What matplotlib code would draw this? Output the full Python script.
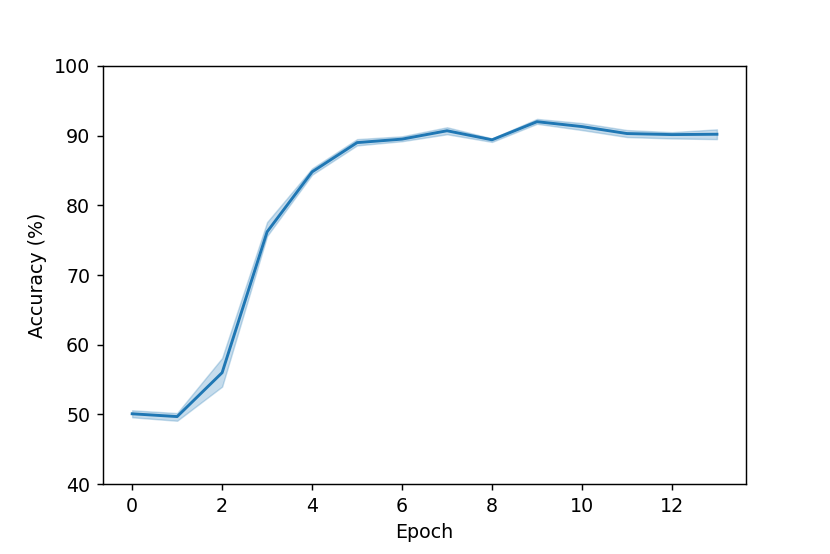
import matplotlib
matplotlib.use("Agg")
import matplotlib.pyplot as plt

# accuracy per epoch (mean) and the shaded band (lower / upper)
epochs = [0, 1, 2, 3, 4, 5, 6, 7, 8, 9, 10, 11, 12, 13]
acc_mean = [50.1, 49.7, 56.0, 76.2, 84.8, 89.0, 89.5, 90.7, 89.4, 92.0, 91.3, 90.3, 90.15, 90.2]
acc_low = [49.6, 49.1, 54.0, 75.6, 84.4, 88.6, 89.2, 90.2, 89.1, 91.7, 90.8, 89.8, 89.6, 89.5]
acc_high = [50.6, 50.2, 58.1, 77.6, 85.3, 89.5, 89.9, 91.2, 89.6, 92.4, 91.8, 90.8, 90.5, 90.9]

color = "#1f77b4"
plt.rcParams["font.size"] = 10.5

fig = plt.figure(figsize=(830 / 130, 554 / 130), dpi=130)
plt.subplots_adjust(left=0.124, right=0.899, bottom=0.126, top=0.881)

plt.fill_between(epochs, acc_low, acc_high, color=color, alpha=0.25, linewidth=0.8)
plt.plot(epochs, acc_mean, color=color, linewidth=1.6)

plt.ylim(40, 100)
plt.xlim(-0.65, 13.65)
plt.xticks([0, 2, 4, 6, 8, 10, 12])
plt.xlabel("Epoch")
plt.ylabel("Accuracy (%)")

plt.savefig("out.png", dpi=130)
